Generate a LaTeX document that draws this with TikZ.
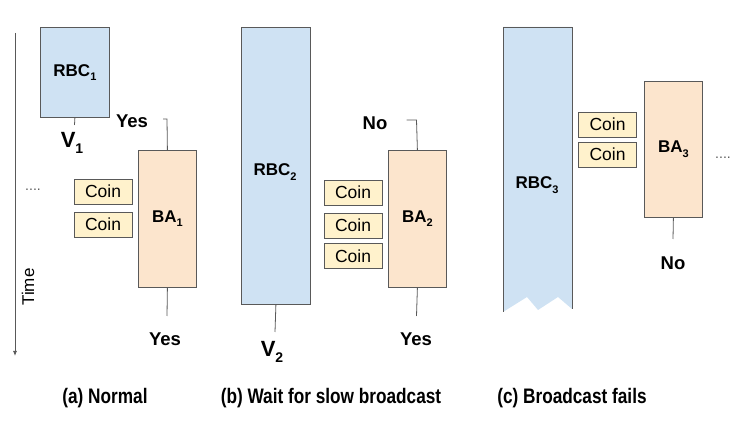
\documentclass[tikz,border=0pt]{standalone}
\usepackage{fontspec}
\setmainfont{Liberation Sans}
\newfontfamily\narrowfont{Liberation Sans}[FakeStretch=0.82]
\usetikzlibrary{arrows.meta}
\definecolor{rbcblue}{HTML}{CFE2F3}
\definecolor{baorange}{HTML}{FCE5CD}
\definecolor{coinyellow}{HTML}{FFF2CC}
\definecolor{edgegray}{HTML}{595959}
\newcommand\lowsub[2][11]{\raisebox{-0.5ex}{\fontsize{#1}{#1}\selectfont #2}}
\tikzset{
  rbcbox/.style={draw=edgegray, fill=rbcblue, line width=0.8pt, minimum width=69pt, inner sep=0pt, font=\fontsize{17}{17}\bfseries\selectfont},
  babox/.style={draw=edgegray, fill=baorange, line width=0.8pt, minimum width=58pt, minimum height=137pt, inner sep=0pt, font=\fontsize{17}{17}\bfseries\selectfont},
  coinbox/.style={draw=edgegray, fill=coinyellow, line width=0.8pt, minimum width=58pt, minimum height=25pt, inner sep=0pt, font=\fontsize{17.5}{17.5}\selectfont},
  tick/.style={draw=edgegray, line width=0.8pt},
  answer/.style={font=\fontsize{18.5}{18.5}\bfseries\selectfont},
  value/.style={font=\fontsize{22}{22}\bfseries\selectfont},
  caption/.style={font=\fontsize{21}{21}\bfseries\narrowfont},
  dots/.style={font=\fontsize{14}{14}\selectfont, text=edgegray}
}
\begin{document}
\begin{tikzpicture}[x=1pt,y=-1pt]%
\useasboundingbox (0,0) rectangle (752,427);%
% time axis
\coordinate (ttop) at (15,33);%
\coordinate (tbot) at (15,356);%
\draw[edgegray, line width=0.8pt, -{Latex[length=5pt,width=4pt]}] (ttop) -- (tbot);%
\node[rotate=90, font=\fontsize{17}{17}\selectfont] (time) at (28,287) {Time};%
%
% (a) normal
\node[rbcbox, minimum height=90pt, anchor=north west] (rbc1) at (40,27) {RBC\lowsub{1}};%
\coordinate (v1end) at (74.5,125);%
\draw[tick] (rbc1.south) -- (v1end);%
\node[value] (v1) at (72,143) {V\lowsub[14]{1}};%
\node[babox, anchor=north west] (ba1) at (138,150) {BA\lowsub{1}};%
\coordinate (ba1top) at (167,119);%
\coordinate (ba1bot) at (167,316);%
\draw[tick] (ba1.north) -- (ba1top) -- ++(-4,0);%
\draw[tick] (ba1.south) -- (ba1bot);%
\node[answer] (yes1a) at (132,121) {Yes};%
\node[answer] (yes1b) at (165,339) {Yes};%
\node[coinbox] (coin1a) at (103,191.5) {Coin};%
\node[coinbox] (coin1b) at (103,224.5) {Coin};%
\node[dots] (dots1) at (33,190) {....};%
%
% (b) wait for slow broadcast
\node[rbcbox, minimum height=277pt, anchor=north west] (rbc2) at (241,27) {};%
\node[font=\fontsize{17}{17}\bfseries\selectfont] (rbc2label) at (275,172) {RBC\lowsub{2}};%
\coordinate (v2end) at (275,332);%
\draw[tick] (rbc2.south) -- (v2end);%
\node[value] (v2) at (272,352) {V\lowsub[14]{2}};%
\node[babox, anchor=north west] (ba2) at (388,150) {BA\lowsub{2}};%
\coordinate (ba2top) at (416.5,120);%
\coordinate (ba2bot) at (416.5,316);%
\draw[tick] (ba2.north) -- (ba2top) -- ++(-10,0);%
\draw[tick] (ba2.south) -- (ba2bot);%
\node[answer] (no2) at (375,123) {No};%
\node[answer] (yes2) at (416,339) {Yes};%
\node[coinbox] (coin2a) at (353,192.5) {Coin};%
\node[coinbox] (coin2b) at (353,225.5) {Coin};%
\node[coinbox] (coin2c) at (353,256) {Coin};%
%
% (c) broadcast fails
\fill[rbcblue] (503,27) -- (572,27) -- (572,309) -- (558,297) -- (538,310) -- (527,297) -- (503,312) -- cycle;%
\draw[tick] (503,312) -- (503,27) -- (572,27) -- (572,309);%
\node[font=\fontsize{17}{17}\bfseries\selectfont] (rbc3label) at (537,185) {RBC\lowsub{3}};%
\node[babox, minimum height=136pt, anchor=north west] (ba3) at (644,81) {BA\lowsub{3}};%
\coordinate (ba3bot) at (673,239);%
\draw[tick] (ba3.south) -- (ba3bot);%
\node[answer] (no3) at (673,263) {No};%
\node[coinbox] (coin3a) at (607.5,124.5) {Coin};%
\node[coinbox] (coin3b) at (607.5,154.5) {Coin};%
\node[dots] (dots3) at (723,158) {....};%
%
% captions
\node[caption] (capa) at (105,398) {(a) Normal};%
\node[caption] (capb) at (331,398) {(b) Wait for slow broadcast};%
\node[caption] (capc) at (572,398) {(c) Broadcast fails};%
\end{tikzpicture}
\end{document}
